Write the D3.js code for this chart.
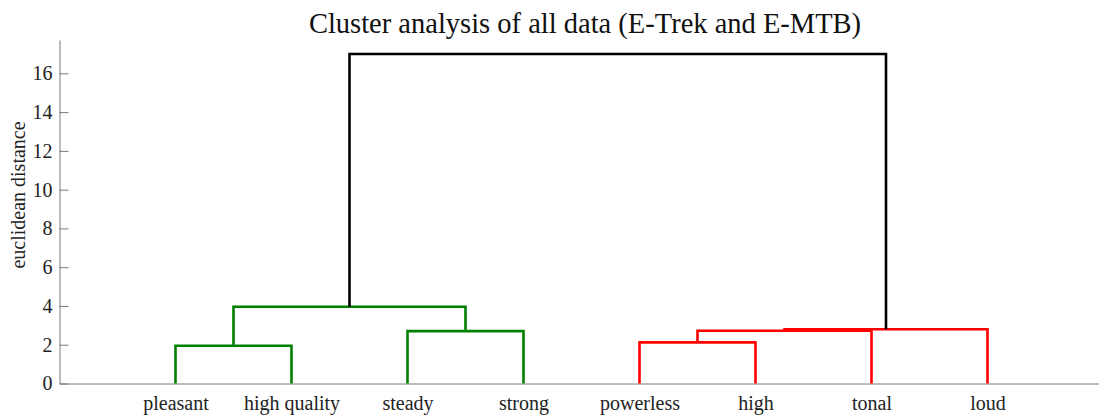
<!DOCTYPE html>
<html>
<head>
<meta charset="utf-8">
<script src="https://cdn.jsdelivr.net/npm/d3@7"></script>
<style>
  html, body { margin: 0; padding: 0; background: #fff; }
  svg { display: block; }
  svg text { font-family: "Liberation Serif", "Times New Roman", serif; }
</style>
</head>
<body>
<svg id="chart" width="1099" height="415"></svg>
<script>
// Leaves in dendrogram order
const leaves = ["pleasant", "high quality", "steady", "strong", "powerless", "high", "tonal", "loud"];

// Linkage: node ids 0..7 are leaves, each merge creates node 8, 9, ...
const mergeLeft   = [0, 4, 2, 9, 11, 8, 13];
const mergeRight  = [1, 5, 3, 6, 7, 10, 12];
const mergeHeight = [1.95, 2.12, 2.70, 2.72, 2.80, 3.96, 17.0];
const mergeColor  = ["#008000", "#ff0000", "#008000", "#ff0000", "#ff0000", "#008000", "#000000"];

const yTicks = [0, 2, 4, 6, 8, 10, 12, 14, 16];

const svg = d3.select("#chart");

const x = d3.scaleLinear().domain([0, leaves.length + 1]).range([59.5, 1103.5]);
const y = d3.scaleLinear().domain([0, 17.72]).range([383.5, 40]);

// Node positions: leaves on the axis, merges centred above their children
const nodeX = leaves.map((_, i) => x(i + 1));
const nodeY = leaves.map(() => y(0));
mergeLeft.forEach((l, k) => {
  nodeX.push((nodeX[l] + nodeX[mergeRight[k]]) / 2);
  nodeY.push(y(mergeHeight[k]));
});

// Axes
const gx = svg.append("g")
  .attr("transform", `translate(0,${y(0)})`)
  .call(d3.axisBottom(x)
    .tickValues(leaves.map((_, i) => i + 1))
    .tickFormat(d => leaves[d - 1])
    .tickSize(0)
    .tickPadding(12));
gx.select(".domain").attr("stroke", "#7a7a7a");
gx.selectAll("text").attr("fill", "#222").attr("font-size", 20);

const gy = svg.append("g")
  .attr("transform", `translate(${x(0)},0)`)
  .call(d3.axisLeft(y)
    .tickValues(yTicks)
    .tickSizeInner(-9)
    .tickSizeOuter(0)
    .tickPadding(7));
gy.select(".domain").attr("stroke", "#7a7a7a");
gy.selectAll(".tick line").attr("stroke", "#7a7a7a");
gy.selectAll("text").attr("fill", "#222").attr("font-size", 20);

// Dendrogram links
const links = svg.append("g").attr("fill", "none").attr("stroke-width", 2.6);
mergeLeft.forEach((l, k) => {
  const r = mergeRight[k];
  const h = y(mergeHeight[k]);
  links.append("path")
    .attr("stroke", mergeColor[k])
    .attr("d", `M${nodeX[l]},${nodeY[l]}V${h}H${nodeX[r]}V${nodeY[r]}`);
});

// Title and axis label
svg.append("text")
  .attr("x", 585).attr("y", 33)
  .attr("text-anchor", "middle")
  .attr("font-size", 28.5)
  .attr("fill", "#111")
  .text("Cluster analysis of all data (E-Trek and E-MTB)");

svg.append("text")
  .attr("transform", "translate(25,195) rotate(-90)")
  .attr("text-anchor", "middle")
  .attr("font-size", 20)
  .attr("fill", "#222")
  .text("euclidean distance");
</script>
</body>
</html>
